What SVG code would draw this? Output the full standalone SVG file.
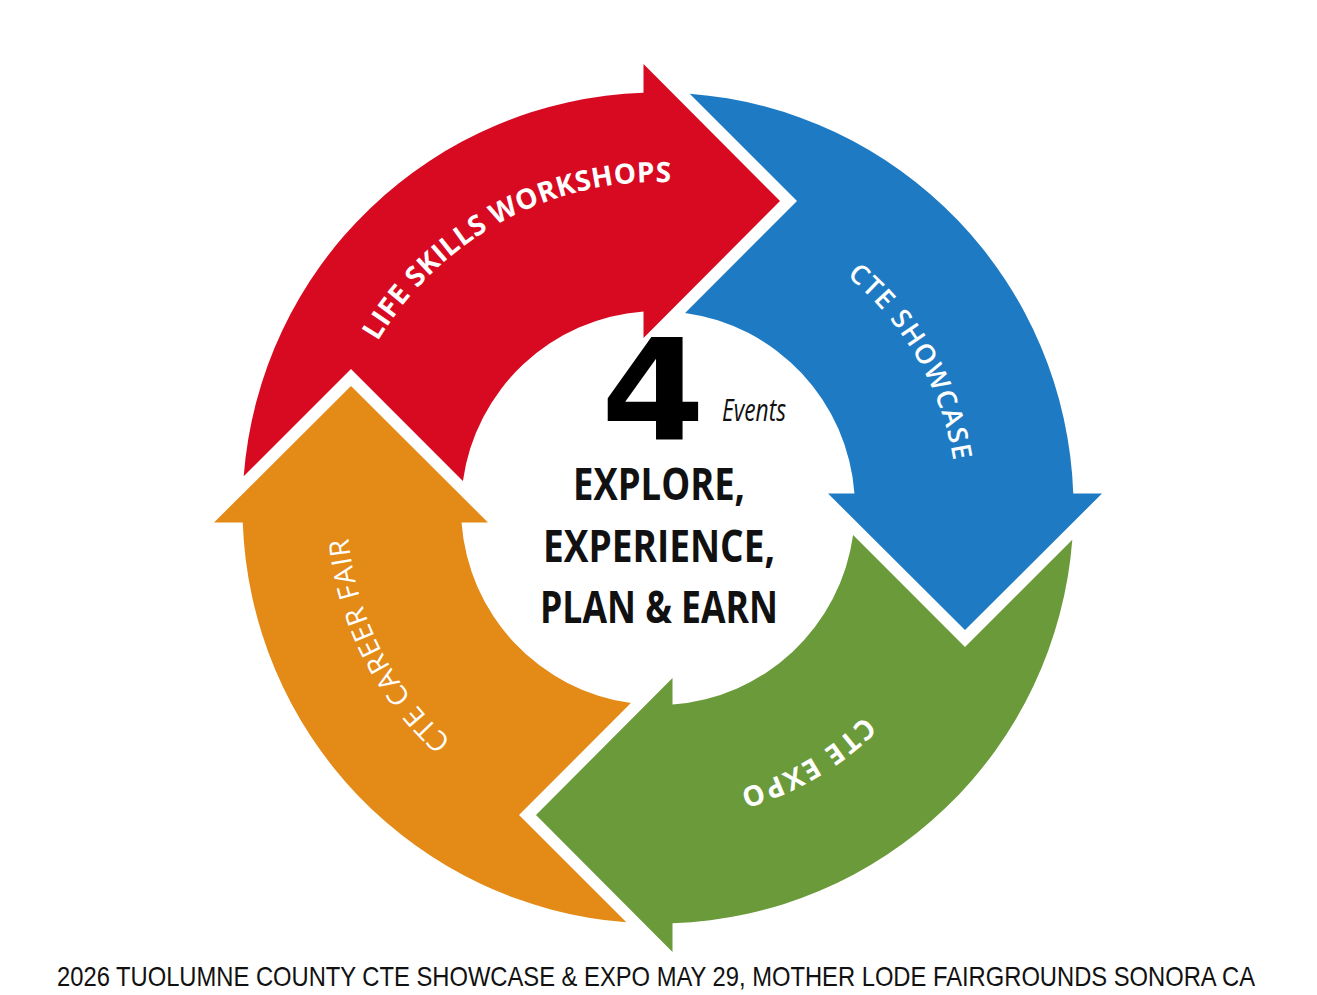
<svg xmlns="http://www.w3.org/2000/svg" xmlns:xlink="http://www.w3.org/1999/xlink" width="1317" height="995" viewBox="0 0 1317 995">
  <style>
    .lbl { fill: #ffffff; font-family: "Open Sans", "Liberation Sans", sans-serif; }
    .ctr { fill: #111111; font-family: "Open Sans", "Liberation Sans", sans-serif; font-weight: 700; font-size: 44px; text-anchor: middle; }
  </style>
  <defs>
    <path id="arrowShape" d="M -414.3 -31.7 L -307 -139 L -195.1 -27.1 A 197 197 0 0 1 -14.5 -196.47 L -14.5 -170 L 122 -307 L -14.5 -444 L -14.5 -415.25 A 415.5 415.5 0 0 0 -414.3 -31.7 Z"/>
    <path id="arcRed" d="M 338.5 443.0 A 326 326 0 0 1 777.5 204.7"/>
    <path id="arcBlue" d="M 709.9 213.5 A 299 299 0 0 1 939.0 610.3"/>
    <path id="arcGreen" d="M 947.0 556.4 A 293 293 0 0 1 560.2 784.2"/>
    <path id="arcOrange" d="M 588.0 811.0 A 311 311 0 0 1 371.7 386.5"/>
  </defs>
  <rect width="1317" height="995" fill="#ffffff"/>
  <g id="connectors"/>
  <g id="life-skills-workshops">
    <use href="#arrowShape" transform="translate(658 508)" fill="#D70A21"/>
    <text class="lbl" font-size="28" font-weight="700" text-anchor="middle"><textPath href="#arcRed" startOffset="50%" textLength="350" lengthAdjust="spacing">LIFE SKILLS WORKSHOPS</textPath></text>
  </g>
  <g id="cte-showcase">
    <use href="#arrowShape" transform="translate(658 508) rotate(90)" fill="#1E7BC3"/>
    <text class="lbl" font-size="27" font-weight="600" text-anchor="middle"><textPath href="#arcBlue" startOffset="50%" textLength="218" lengthAdjust="spacing">CTE SHOWCASE</textPath></text>
  </g>
  <g id="cte-expo">
    <use href="#arrowShape" transform="translate(658 508) rotate(180)" fill="#6B9A3B"/>
    <text class="lbl" font-size="28" font-weight="700" text-anchor="middle"><textPath href="#arcGreen" startOffset="50%" textLength="146" lengthAdjust="spacing">CTE EXPO</textPath></text>
  </g>
  <g id="cte-career-fair">
    <use href="#arrowShape" transform="translate(658 508) rotate(270)" fill="#E38A17"/>
    <text class="lbl" font-size="28" font-weight="500" text-anchor="middle"><textPath href="#arcOrange" startOffset="50%" textLength="232" lengthAdjust="spacing">CTE CAREER FAIR</textPath></text>
  </g>
  <g id="center">
    <text x="653" y="440" font-family="'DejaVu Sans', sans-serif" font-weight="700" font-size="140" text-anchor="middle" textLength="104" lengthAdjust="spacingAndGlyphs" fill="#000000">4</text>
    <text x="722" y="421" font-family="'Open Sans', 'Liberation Sans', sans-serif" font-style="italic" font-size="31" textLength="64" lengthAdjust="spacingAndGlyphs" fill="#111111">Events</text>
    <text class="ctr" x="659" y="500" textLength="172" lengthAdjust="spacingAndGlyphs">EXPLORE,</text>
    <text class="ctr" x="659" y="562" textLength="232" lengthAdjust="spacingAndGlyphs">EXPERIENCE,</text>
    <text class="ctr" x="659" y="623" textLength="238" lengthAdjust="spacingAndGlyphs">PLAN &amp; EARN</text>
  </g>
  <g id="caption">
    <text x="0" y="0" transform="translate(57 986) scale(1 1.17)" font-family="'Liberation Sans', Arial, sans-serif" font-size="24" textLength="1198" lengthAdjust="spacingAndGlyphs" fill="#111111">2026 TUOLUMNE COUNTY CTE SHOWCASE &amp; EXPO MAY 29, MOTHER LODE FAIRGROUNDS SONORA CA</text>
  </g>
</svg>
